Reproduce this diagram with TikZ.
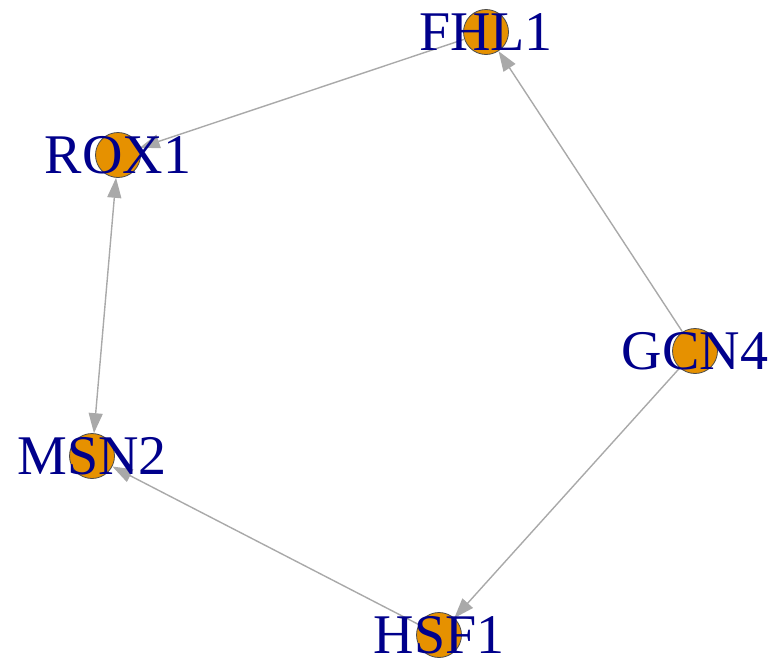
\documentclass[tikz,border=0pt]{standalone}
\usepackage{fontspec}
\setmainfont{Liberation Serif}
\usetikzlibrary{arrows.meta}
\definecolor{vfill}{HTML}{E69100}
\definecolor{vlab}{HTML}{00008B}
\definecolor{edgec}{HTML}{A9A9A9}
\tikzset{
  vert/.style={circle,minimum size=45pt,inner sep=0pt,fill=vfill,draw=black!70,line width=0.8pt},
  vlabel/.style={text=vlab,font=\fontsize{56}{56}\selectfont,inner sep=0pt},
  edge/.style={draw=edgec,line width=1.4pt,-{Triangle[length=20pt,width=14pt]}},
  bedge/.style={draw=edgec,line width=1.4pt,{Triangle[length=20pt,width=14pt]}-{Triangle[length=20pt,width=14pt]}}
}
\begin{document}
\begin{tikzpicture}[x=1pt,y=-1pt]
\useasboundingbox (0,0) rectangle (774,664);
\node[vert] (FHL1) at (486,32) {};
\node[vert] (ROX1) at (118,155) {};
\node[vert] (GCN4) at (695,351) {};
\node[vert] (MSN2) at (92,456) {};
\node[vert] (HSF1) at (439,635) {};
\draw[edge] (FHL1) -- (ROX1);
\draw[edge] (GCN4) -- (FHL1);
\draw[bedge] (ROX1) -- (MSN2);
\draw[edge] (HSF1) -- (MSN2);
\draw[edge] (GCN4) -- (HSF1);
\node[vlabel] (FHL1l) at (FHL1) {FHL1};
\node[vlabel] (ROX1l) at (ROX1) {ROX1};
\node[vlabel] (GCN4l) at (GCN4) {GCN4};
\node[vlabel] (MSN2l) at (MSN2) {MSN2};
\node[vlabel] (HSF1l) at (HSF1) {HSF1};
\end{tikzpicture}
\end{document}
